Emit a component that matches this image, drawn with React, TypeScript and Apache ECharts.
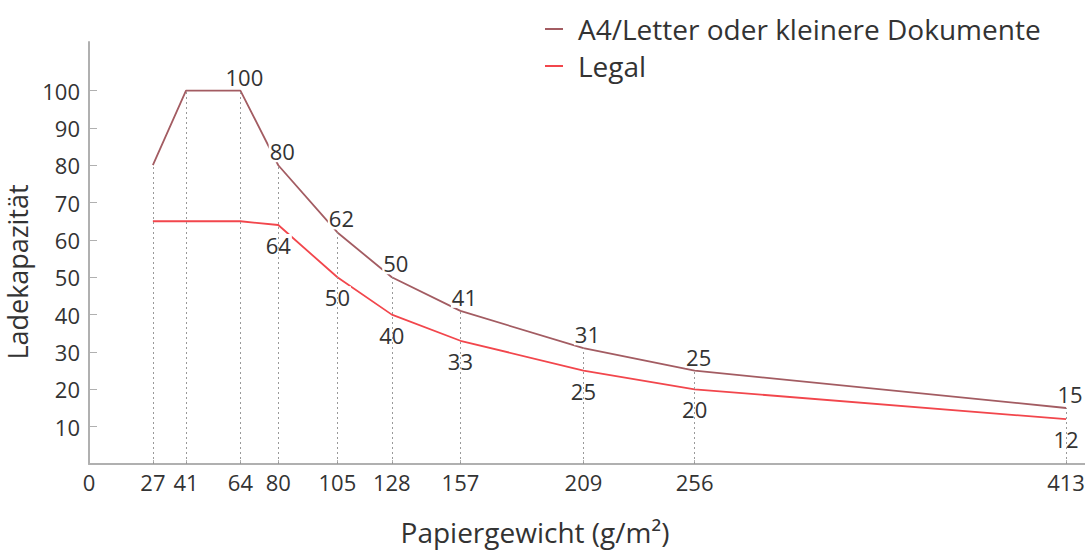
import React, { useEffect, useRef } from "react";
import * as echarts from "echarts";

const weights = [27, 41, 64, 80, 105, 128, 157, 209, 256, 413];
const a4Values = [80, 100, 100, 80, 62, 50, 41, 31, 25, 15];
const legalValues = [65, 65, 65, 64, 50, 40, 33, 25, 20, 12];
const xTickValues = [0, 27, 41, 64, 80, 105, 128, 157, 209, 256, 413];
const yTickValues = [10, 20, 30, 40, 50, 60, 70, 80, 90, 100];
const seriesNames = ["A4/Letter oder kleinere Dokumente", "Legal"];
const a4FirstLabelIndex = 2;
const legalFirstLabelIndex = 3;

const FONT = "Open Sans";
const A4_COLOR = "#a35c62";
const LEGAL_COLOR = "#f2464c";
const AXIS_COLOR = "#b0b0b0";
const TEXT_COLOR = "#333";

export default function App() {
  const ref = useRef<HTMLDivElement>(null);
  useEffect(() => {
    if (!ref.current) return;
    const chart = echarts.init(ref.current, undefined, { renderer: "svg" });
    const labelStyle = {
      fontFamily: FONT,
      fontSize: 22,
      color: TEXT_COLOR,
      backgroundColor: "#fff",
      padding: [0, 1],
    };
    chart.setOption({
      animation: false,
      textStyle: { fontFamily: FONT },
      legend: {
        orient: "vertical",
        left: 545,
        top: 14,
        padding: 0,
        icon: "rect",
        itemWidth: 18,
        itemHeight: 2,
        itemGap: 7,
        textStyle: {
          fontFamily: FONT,
          fontSize: 28,
          color: TEXT_COLOR,
          padding: [0, 0, 0, 10],
          lineHeight: 30,
        },
        data: seriesNames,
      },
      grid: {
        left: 89,
        right: 0,
        top: 42,
        bottom: 91,
        containLabel: false,
        outerBoundsMode: "none",
      },
      xAxis: {
        type: "value",
        min: 0,
        max: 421,
        name: "Papiergewicht (g/m²)",
        nameLocation: "middle",
        nameGap: 54,
        nameTextStyle: {
          fontFamily: FONT,
          fontSize: 28,
          color: TEXT_COLOR,
          padding: [0, 104, 0, 0],
        },
        axisLine: { show: true, lineStyle: { color: AXIS_COLOR, width: 2 } },
        axisTick: {
          show: true,
          inside: true,
          length: 4,
          customValues: xTickValues,
          lineStyle: { color: AXIS_COLOR },
        },
        axisLabel: {
          customValues: xTickValues,
          fontFamily: FONT,
          fontSize: 22,
          color: TEXT_COLOR,
          margin: 7,
        },
        splitLine: { show: false },
      },
      yAxis: {
        type: "value",
        min: 0,
        max: 113,
        name: "Ladekapazität",
        nameLocation: "middle",
        nameGap: 47,
        nameTextStyle: {
          fontFamily: FONT,
          fontSize: 27,
          color: TEXT_COLOR,
          padding: [0, 38, 0, 0],
        },
        axisLine: { show: true, lineStyle: { color: AXIS_COLOR, width: 2 } },
        axisTick: {
          show: true,
          inside: true,
          length: 8,
          customValues: yTickValues,
          lineStyle: { color: AXIS_COLOR },
        },
        axisLabel: {
          customValues: yTickValues,
          fontFamily: FONT,
          fontSize: 22,
          color: TEXT_COLOR,
          margin: 9,
        },
        splitLine: { show: false },
      },
      series: [
        {
          name: seriesNames[0],
          type: "line",
          showSymbol: true,
          symbol: "circle",
          symbolSize: 0,
          color: A4_COLOR,
          lineStyle: { color: A4_COLOR, width: 1.8 },
          data: weights.map((w, i) => ({
            value: [w, a4Values[i]],
            label: { show: i >= a4FirstLabelIndex },
          })),
          label: {
            show: true,
            position: "top",
            distance: 3,
            offset: [4, 0],
            formatter: (p: any) => String(p.value[1]),
            ...labelStyle,
          },
          markLine: {
            silent: true,
            symbol: "none",
            label: { show: false },
            lineStyle: { color: "#999", type: [2, 3], width: 1 },
            data: weights.map((w, i) => [
              { coord: [w, 0] },
              { coord: [w, a4Values[i]] },
            ]),
          },
          z: 3,
        },
        {
          name: seriesNames[1],
          type: "line",
          showSymbol: true,
          symbol: "circle",
          symbolSize: 0,
          color: LEGAL_COLOR,
          lineStyle: { color: LEGAL_COLOR, width: 1.8 },
          data: weights.map((w, i) => ({
            value: [w, legalValues[i]],
            label: { show: i >= legalFirstLabelIndex },
          })),
          label: {
            show: true,
            position: "bottom",
            distance: 9,
            formatter: (p: any) => String(p.value[1]),
            ...labelStyle,
          },
          z: 3,
        },
      ],
    });
    return () => chart.dispose();
  }, []);
  return (
    <div
      ref={ref}
      style={{ position: "absolute", left: 0, top: 0, width: 1085, height: 555 }}
    />
  );
}
